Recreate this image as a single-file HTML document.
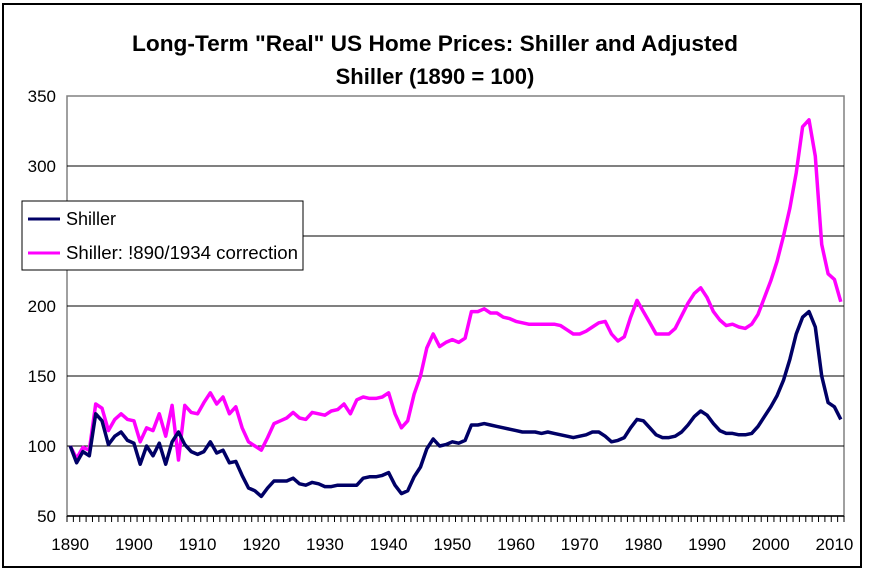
<!DOCTYPE html>
<html><head><meta charset="utf-8"><style>
body{margin:0;background:#fff;}
svg{display:block;font-family:"Liberation Sans",Arial,sans-serif;}
</style></head><body>
<svg id="chart" width="869" height="573">
<rect x="3" y="4" width="858" height="563" fill="#fff" stroke="#000" stroke-width="2"/>
<text x="435" y="51" text-anchor="middle" font-size="22" font-weight="bold" textLength="606" lengthAdjust="spacingAndGlyphs">Long-Term "Real" US Home Prices:  Shiller and Adjusted</text>
<text x="435" y="84" text-anchor="middle" font-size="22" font-weight="bold">Shiller (1890 = 100)</text>
<g id="grid"></g><g id="axes"></g><g id="series"></g>
<g>
<rect x="22" y="201" width="281" height="69" fill="#fff" stroke="#000" stroke-width="1"/>
<line x1="28" y1="219" x2="60" y2="219" stroke="#000066" stroke-width="3"/>
<text x="66" y="225" font-size="18">Shiller</text>
<line x1="28" y1="253" x2="60" y2="253" stroke="#ff00ff" stroke-width="3"/>
<text x="66" y="259" font-size="18" textLength="232" lengthAdjust="spacingAndGlyphs">Shiller:  !890/1934 correction</text>
</g>
</svg>
<script>
const startYear = 1890;
const shiller = [100,88,96,93,123,118,101,107,110,104,
102,87,100,93,102,87,103,110,101,96,
94,96,103,95,97,88,89,79,70,68,
64,70,75,75,75,77,73,72,74,73,
71,71,72,72,72,72,77,78,78,79,
81,72,66,68,78,85,98,105,100,101,
103,102,104,115,115,116,115,114,113,112,
111,110,110,110,109,110,109,108,107,106,
107,108,110,110,107,103,104,106,113,119,
118,113,108,106,106,107,110,115,121,125,
122,116,111,109,109,108,108,109,114,121,
128,136,147,162,180,192,196,185,150,131,
128,119];
const adjusted = [100,91,99,97,130,127,111,119,123,119,
118,103,113,111,123,107,129,90,129,124,
123,131,138,130,135,123,128,113,103,100,
97,106,116,118,120,124,120,119,124,123,
122,125,126,130,123,133,135,134,134,135,
138,123,113,118,137,150,170,180,171,174,
176,174,177,196,196,198,195,195,192,191,
189,188,187,187,187,187,187,186,183,180,
180,182,185,188,189,180,175,178,192,204,
196,188,180,180,180,184,193,202,209,213,
206,196,190,186,187,185,184,187,194,206,
218,232,250,270,295,328,333,307,244,223,
219,203];
const yTicks = [50,100,150,200,250,300,350];
const xLabels = [1890,1900,1910,1920,1930,1940,1950,1960,1970,1980,1990,2000,2010];

const NS="http://www.w3.org/2000/svg";
const L=67,R=844,T=96,B=516,N=shiller.length;
const step=(R-L)/N;
const xs=i=>L+(i+0.5)*step;
const ys=v=>B-(v-50)*(B-T)/300;
function mk(tag,attrs,parent){const e=document.createElementNS(NS,tag);for(const k in attrs)e.setAttribute(k,attrs[k]);parent.appendChild(e);return e;}
const grid=document.getElementById('grid'),axes=document.getElementById('axes'),ser=document.getElementById('series');
mk('rect',{x:L,y:T,width:R-L,height:B-T,fill:'#fff',stroke:'#808080','stroke-width':1.5},grid);
yTicks.forEach(v=>{
  if(v>50&&v<350){const g=mk('line',{x1:L,x2:R,y1:ys(v),y2:ys(v),stroke:'#000','stroke-width':1},grid);
  
  }
  const t=mk('text',{x:56,y:ys(v)+6,'text-anchor':'end','font-size':17},axes);t.textContent=v;
  
  
});
mk('line',{x1:L,x2:R,y1:B,y2:B,stroke:'#000','stroke-width':1.5},axes);
for(let i=0;i<=N;i++){mk('line',{x1:L+i*step,x2:L+i*step,y1:B,y2:B+6,stroke:'#000','stroke-width':1},axes);}
xLabels.forEach(y=>{
  const t=mk('text',{x:xs(y-startYear),y:B+34,'text-anchor':'middle','font-size':17},axes);t.textContent=y;
  
  
});
function line(data,color,name){
  const p=mk('polyline',{points:data.map((v,i)=>xs(i).toFixed(1)+','+ys(v).toFixed(1)).join(' '),fill:'none',stroke:color,'stroke-width':3.5,'stroke-linejoin':'round'},ser);
  
  
}
line(adjusted,'#ff00ff','adjusted-shiller-line');
line(shiller,'#000066','shiller-line');
</script>
</body></html>
